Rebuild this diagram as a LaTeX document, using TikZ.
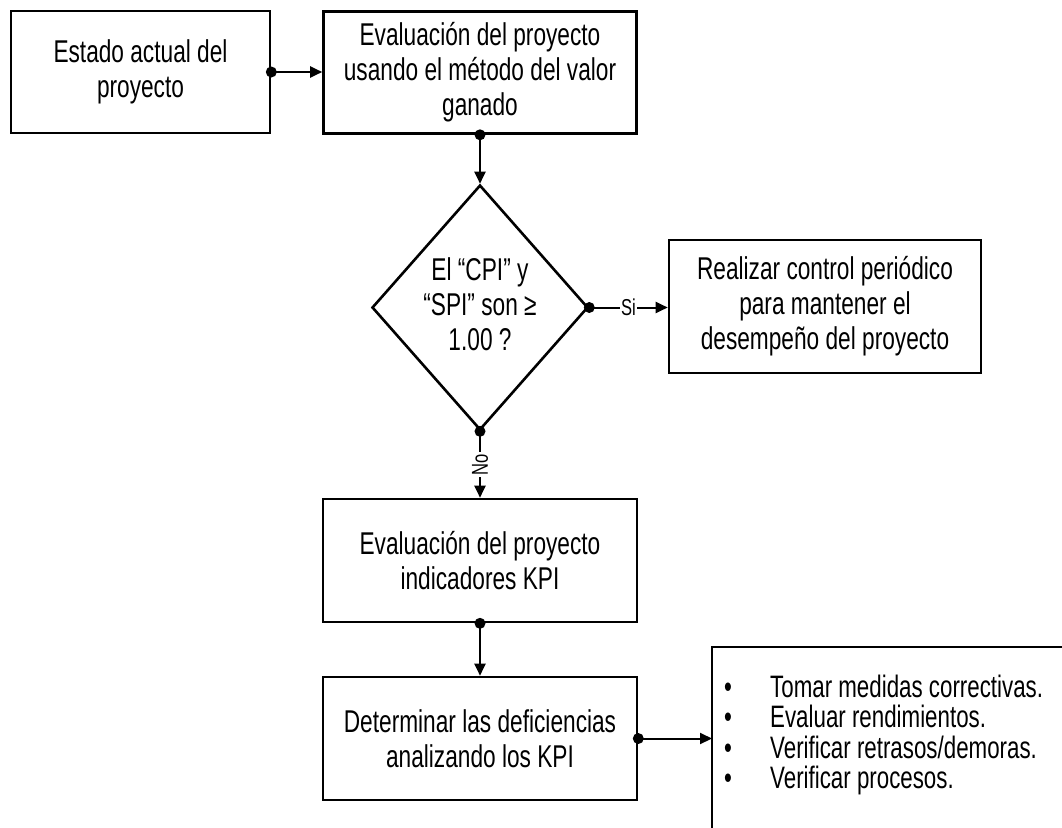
\documentclass[tikz,border=0pt]{standalone}
\usepackage{fontspec}
\setmainfont{Liberation Sans}[FakeStretch=0.72]
\usetikzlibrary{shapes.geometric,arrows.meta}

\begin{document}
\begin{tikzpicture}[x=1pt,y=-1pt,
  box/.style={draw,line width=2.6pt,align=center,inner sep=0pt,
    font=\fontsize{31.5}{35}\selectfont},
  decision/.style={diamond,draw,line width=2.6pt,inner sep=0pt,
    minimum width=216pt,minimum height=245pt},
  conn/.style={line width=2pt,-{Triangle[length=12pt,width=11pt]}},
  dot/.style={fill=black},
  lbl/.style={fill=white,inner sep=1.5pt,font=\fontsize{23}{24}\selectfont}
]
\useasboundingbox (0,0) rectangle (1062,827);
\clip (0,0) rectangle (1062,827);

% process boxes
\node[box,minimum width=259pt,minimum height=122pt] (estado) at (140.5,72)
  {Estado actual del\\proyecto};
\node[box,minimum width=313pt,minimum height=122pt] (evm) at (480,72.5)
  {Evaluación del proyecto\\usando el método del valor\\ganado};
\node[decision] (cpi) at (480,307.5) {};
\node[align=center,inner sep=0pt,font=\fontsize{31.5}{35}\selectfont] (cpitxt) at (480,304)
  {El “CPI” y\\“SPI” son ≥\\1.00 ?};
\node[box,minimum width=312pt,minimum height=133pt] (control) at (825,306.5)
  {Realizar control periódico\\para mantener el\\desempeño del proyecto};
\node[box,minimum width=314pt,minimum height=123pt] (kpi) at (480,560.5)
  {Evaluación del proyecto\\indicadores KPI};
\node[box,minimum width=314pt,minimum height=123pt] (defic) at (480,738.5)
  {Determinar las deficiencias\\analizando los KPI};

% action list box, running off the right and bottom edges
\coordinate (accNW) at (712,647);
\draw[line width=2.6pt] (1080,647) -- (accNW) -- (712,850);
\node[anchor=west,align=left,inner sep=0pt,font=\fontsize{31}{30.5}\selectfont]
  (acciones) at (724,735)
  {\makebox[46pt][l]{•}Tomar medidas correctivas.\\
   \makebox[46pt][l]{•}Evaluar rendimientos.\\
   \makebox[46pt][l]{•}Verificar retrasos/demoras.\\
   \makebox[46pt][l]{•}Verificar procesos.};

% connectors
\draw[conn] (estado.east) -- (estado.east -| evm.west);
\fill[dot] (estado.east) circle (5.5pt);

\draw[conn] (evm.south) -- (cpi.north);
\fill[dot] (evm.south) circle (5.5pt);

\draw[conn] (cpi.east) -- node[lbl] (si) {Si} (cpi.east -| control.west);
\fill[dot] (cpi.east) circle (5.5pt);

\draw[conn] (cpi.south) -- node[lbl,rotate=90] (no) {No} (kpi.north);
\fill[dot] (cpi.south) circle (5.5pt);

\draw[conn] (kpi.south) -- (defic.north);
\fill[dot] (kpi.south) circle (5.5pt);

\draw[conn] (defic.east) -- (defic.east -| accNW);
\fill[dot] (defic.east) circle (5.5pt);
\end{tikzpicture}
\end{document}
